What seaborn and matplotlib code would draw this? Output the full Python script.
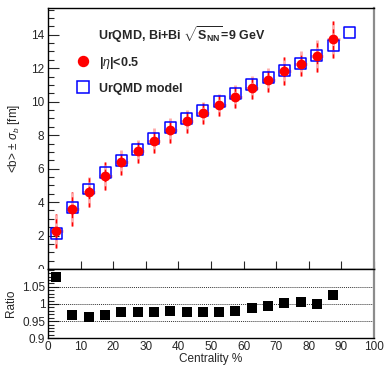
import numpy as np
import pandas as pd
import matplotlib
matplotlib.use("Agg")
import matplotlib.pyplot as plt
from matplotlib.ticker import MultipleLocator
from matplotlib.lines import Line2D
from matplotlib.transforms import Bbox, TransformedBbox
import seaborn as sns

# Centrality bin centres (%)
centrality = [2.5, 7.5, 12.5, 17.5, 22.5, 27.5, 32.5, 37.5, 42.5,
              47.5, 52.5, 57.5, 62.5, 67.5, 72.5, 77.5, 82.5, 87.5]
# Mean impact parameter from |eta|<0.5 and its spread
b_eta = [2.27, 3.58, 4.61, 5.55, 6.37, 7.04, 7.66, 8.30, 8.82,
         9.34, 9.79, 10.30, 10.84, 11.30, 11.82, 12.28, 12.74, 13.73]
sigma_eta = [1.0, 1.0, 0.9, 0.85, 0.75, 0.7, 0.75, 0.75, 0.7,
             0.65, 0.65, 0.7, 0.7, 0.7, 0.85, 0.75, 0.95, 1.1]
# UrQMD model impact parameter
centrality_model = [2.5, 7.5, 12.5, 17.5, 22.5, 27.5, 32.5, 37.5, 42.5,
                    47.5, 52.5, 57.5, 62.5, 67.5, 72.5, 77.5, 82.5, 87.5, 92.5]
b_model = [2.10, 3.70, 4.78, 5.75, 6.50, 7.16, 7.80, 8.44, 8.98,
           9.50, 9.99, 10.50, 11.00, 11.44, 11.84, 12.28, 12.74, 13.37, 14.13]
# Ratio of |eta|<0.5 estimate to model
ratio = [1.080, 0.969, 0.961, 0.968, 0.976, 0.978, 0.977, 0.979, 0.978,
         0.978, 0.978, 0.980, 0.987, 0.993, 1.003, 1.007, 1.000, 1.026]

df_eta = pd.DataFrame({"c": centrality, "b": b_eta, "s": sigma_eta, "r": ratio})
df_model = pd.DataFrame({"c": centrality_model, "b": b_model})

sns.set_style("white")
plt.rcParams["font.family"] = ["Liberation Sans", "DejaVu Sans"]
plt.rcParams["mathtext.fontset"] = "custom"
plt.rcParams["mathtext.rm"] = "Liberation Sans"
plt.rcParams["mathtext.it"] = "Liberation Sans:italic"
plt.rcParams["mathtext.bf"] = "Liberation Sans:bold"

W, H = 385, 367
fig = plt.figure(figsize=(W / 100, H / 100), dpi=100)
x0, x1 = 48 / W, 374 / W
y_mid = 1 - 269 / H
ax = fig.add_axes([x0, y_mid, x1 - x0, (1 - 8 / H) - y_mid])
axr = fig.add_axes([x0, 1 - 338.3 / H, x1 - x0, y_mid - (1 - 338.3 / H)])

# --- upper panel ---
ax.errorbar(df_eta["c"], df_eta["b"], yerr=df_eta["s"], xerr=2.0, fmt="none",
            ecolor=(1, 0.45, 0.45), elinewidth=2.0, alpha=0.6, zorder=2)
eb = ax.errorbar(df_eta["c"], df_eta["b"], yerr=df_eta["s"], fmt="none",
                 ecolor="red", elinewidth=1.0, zorder=3)
for lc in eb[2]:
    lc.set_linestyle((0, (3, 3)))
sns.scatterplot(data=df_model, x="c", y="b", ax=ax, marker="s", s=62,
                facecolor="none", edgecolor="blue", linewidth=1.1, zorder=4,
                legend=False)
sns.scatterplot(data=df_eta, x="c", y="b", ax=ax, marker="o", s=50,
                color="red", edgecolor="red", linewidth=0, zorder=5,
                legend=False)

ax.set_xlim(0, 100)
ax.set_ylim(0, 15.6)
ax.set_xlabel("")
ax.set_ylabel(r"<b> $\pm$ $\sigma_{b}$ [fm]", fontsize=8.5, labelpad=6)
ax.xaxis.set_major_locator(MultipleLocator(10))
ax.yaxis.set_major_locator(MultipleLocator(2))
ax.yaxis.set_minor_locator(MultipleLocator(0.5))
ax.tick_params(axis="x", which="both", direction="in", length=6, width=0.8,
               labelbottom=False, bottom=True, top=False)
ax.tick_params(axis="y", which="major", direction="in", length=8, width=0.8,
               labelsize=8.5, left=True, right=False, pad=3)
ax.tick_params(axis="y", which="minor", direction="in", length=4, width=0.8,
               left=True, right=False)
ax.set_yticks([0, 2, 4, 6, 8, 10, 12, 14])

ax.text(0.153, 0.897, r"UrQMD, Bi+Bi $\sqrt{\mathbf{S}_{\mathbf{NN}}}$=9 GeV",
        transform=ax.transAxes, fontsize=9, fontweight="bold",
        ha="left", va="center")
handles = [
    Line2D([], [], marker="o", linestyle="none", markersize=7.2,
           markerfacecolor="red", markeredgecolor="red"),
    Line2D([], [], marker="s", linestyle="none", markersize=8,
           markerfacecolor="none", markeredgecolor="blue", markeredgewidth=1.1),
]
leg = ax.legend(handles, [r"|$\eta$|<0.5", "UrQMD model"], loc="upper left",
                bbox_to_anchor=(0.05, 0.845), frameon=False, borderpad=0,
                handletextpad=0.25, labelspacing=0.95,
                prop={"size": 9, "weight": "bold"})

# --- ratio panel ---
sns.scatterplot(data=df_eta, x="c", y="r", ax=axr, marker="s", s=42,
                color="black", edgecolor="black", linewidth=0, zorder=4,
                legend=False)
for yv in (0.95, 1.0, 1.05):
    axr.axhline(yv, color="black", linestyle=(0, (1, 1)), linewidth=0.7,
                alpha=0.8, zorder=1)
axr.set_xlim(0, 100)
axr.set_ylim(0.9, 1.102)
axr.set_xlabel("Centrality %", fontsize=8.5, labelpad=0)
axr.set_ylabel("Ratio", fontsize=8.5, labelpad=4)
axr.xaxis.set_major_locator(MultipleLocator(10))
axr.set_yticks([0.9, 0.95, 1.0, 1.05])
axr.set_yticklabels(["0.9", "0.95", "1", "1.05"])
axr.yaxis.set_minor_locator(MultipleLocator(0.01))
axr.tick_params(axis="x", which="major", direction="in", length=6, width=0.8,
                labelsize=8.5, pad=2, top=False)
axr.tick_params(axis="y", which="major", direction="in", length=8, width=0.8,
                labelsize=8.5, left=True, right=False, pad=2)
axr.tick_params(axis="y", which="minor", direction="in", length=4, width=0.8,
                left=True, right=False)

for a in (ax, axr):
    for side in ("left", "bottom", "top"):
        a.spines[side].set_color("black")
        a.spines[side].set_linewidth(1.0)
    a.spines["right"].set_color("#8c8c8c")
    a.spines["right"].set_linewidth(1.6)
    a.set_facecolor("white")

# the upper panel's "0" is partly hidden behind the ratio pad
clip = TransformedBbox(Bbox([[0, y_mid], [1, 1]]), fig.transFigure)
for lab in ax.get_yticklabels():
    lab.set_clip_box(clip)
    lab.set_clip_on(True)

fig.savefig("out.png", dpi=100, facecolor="white")
